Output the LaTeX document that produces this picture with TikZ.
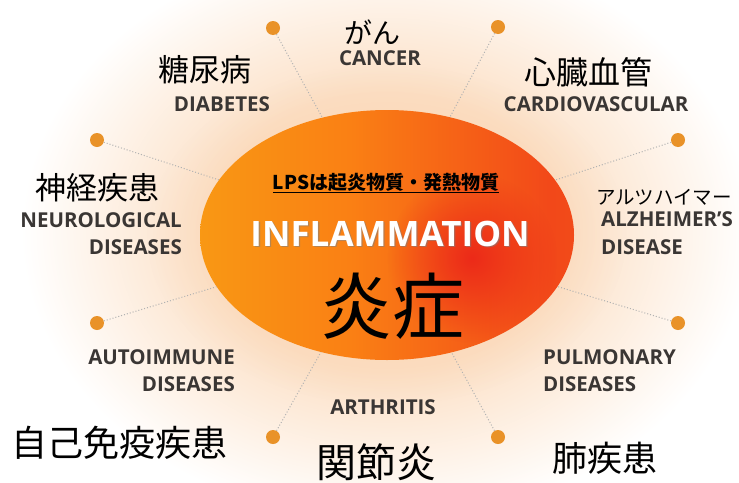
\documentclass[tikz,border=0pt]{standalone}
\usepackage{fontspec}
\setmainfont{Open Sans}
\newfontfamily\jp{Noto Sans CJK JP}
\usetikzlibrary{shapes.geometric,fadings}
\definecolor{peach}{RGB}{252,224,198}
\definecolor{halo}{RGB}{248,190,140}
\definecolor{ca}{RGB}{245,188,15}
\definecolor{cb}{RGB}{248,160,20}
\definecolor{cc}{RGB}{250,128,20}
\definecolor{cd}{RGB}{242,72,25}
\definecolor{ce}{RGB}{246,96,30}
\definecolor{redspot}{RGB}{236,42,25}
\definecolor{dotc}{RGB}{233,146,40}
\definecolor{lbl}{RGB}{58,54,52}
\pgfdeclareradialshading{glow}{\pgfpoint{0bp}{0bp}}{color(0bp)=(peach); color(12bp)=(peach); color(25bp)=(white); color(50bp)=(white)}
\pgfdeclarehorizontalshading{ellsh}{100bp}{color(0bp)=(ca); color(18bp)=(cb); color(45bp)=(cc); color(72bp)=(cd); color(100bp)=(ce)}
\tikzfading[name=fuzz, inner color=transparent!0, outer color=transparent!100]
\tikzset{
  dotn/.style={circle, fill=dotc, minimum size=14pt, inner sep=0pt},
  conn/.style={draw=gray!60, line width=1pt, dash pattern=on 1pt off 2pt},
  jpl/.style={inner sep=0pt, font=\jp\fontsize{#1}{#1}\selectfont},
  enl/.style={inner sep=0pt, text=lbl, font=\bfseries\fontsize{20.5}{20.5}\selectfont},
  infl/.style={inner sep=0pt, anchor=base, font=\bfseries\fontsize{35}{35}\selectfont}
}
\begin{document}
\begin{tikzpicture}[x=1pt,y=-1pt]
\useasboundingbox (0,0) rectangle (739,482);
\fill[white] (0,0) rectangle (739,482);
\begin{scope}
  \clip (0,0) rectangle (739,482);
  \shade[shading=glow] (386,232) ellipse [x radius=365, y radius=290];
  \fill[halo, opacity=0.55, path fading=fuzz] (387,235) ellipse [x radius=240, y radius=170];
\end{scope}
% central ellipse
\node[ellipse, shade, shading=ellsh, minimum width=374pt, minimum height=250pt, inner sep=0pt] (E) at (387,235) {};
\begin{scope}
  \clip (387,235) ellipse [x radius=187, y radius=125];
  \fill[redspot, path fading=fuzz] (472,258) circle (85);
\end{scope}
% dots
\node[dotn] (d1) at (273,28) {};
\node[dotn] (d2) at (498,27) {};
\node[dotn] (d3) at (97,140) {};
\node[dotn] (d4) at (678,140) {};
\node[dotn] (d5) at (97,323) {};
\node[dotn] (d6) at (678,323) {};
\node[dotn] (d7) at (273,437) {};
\node[dotn] (d8) at (498,437) {};
\foreach \d in {d1,d2,d3,d4,d5,d6,d7,d8} \draw[conn] (\d) -- (E);
% labels
\node[jpl=28] (jcan) at (372,32) {がん};
\node[enl, anchor=base] (ecan) at (380,65) {CANCER};
\node[jpl=31] (jdia) at (205,70) {糖尿病};
\node[enl, anchor=base] (edia) at (222,111) {DIABETES};
\node[jpl=32] (jcar) at (588,72) {心臓血管};
\node[enl, anchor=base] (ecar) at (596,111) {CARDIOVASCULAR};
\node[jpl=31] (jneu) at (97,188) {神経疾患};
\node[enl, anchor=base east] (eneu1) at (182,227) {NEUROLOGICAL};
\node[enl, anchor=base east] (eneu2) at (182,254) {DISEASES};
\node[jpl=19.5] (jalz) at (664,197) {アルツハイマー};
\node[enl, anchor=base west] (ealz1) at (601,226) {ALZHEIMER’S};
\node[enl, anchor=base west] (ealz2) at (601,254) {DISEASE};
\node[enl, anchor=base east] (eaut1) at (235,364) {AUTOIMMUNE};
\node[enl, anchor=base east] (eaut2) at (235,391) {DISEASES};
\node[jpl=36] (jaut) at (120,443) {自己免疫疾患};
\node[enl, anchor=base] (eart) at (383,414) {ARTHRITIS};
\node[jpl=40] (jart) at (376,462) {関節炎};
\node[enl, anchor=base west] (epul1) at (543,364) {PULMONARY};
\node[enl, anchor=base west] (epul2) at (543,391) {DISEASES};
\node[jpl=35] (jpul) at (605,458) {肺疾患};
% inside ellipse
\node[jpl=19, font=\jp\bfseries\fontsize{19}{19}\selectfont] (lps) at (386,183) {\underline{LPSは起炎物質・発熱物質}};
\node[infl, text=black!50, opacity=0.55] (ish) at (391.3,247.3) {INFLAMMATION};
\node[infl, text=white] (infl) at (390,246) {INFLAMMATION};
\node[jpl=72] (jinf) at (392,306) {炎症};
\end{tikzpicture}
\end{document}
